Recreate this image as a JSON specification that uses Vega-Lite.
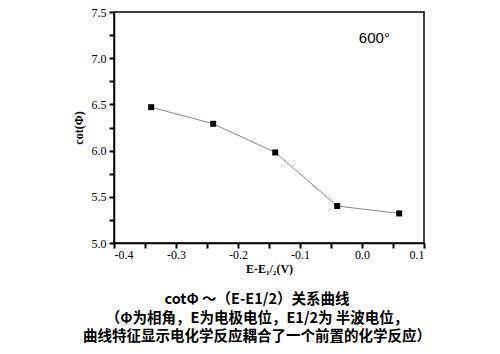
{
  "$schema": "https://vega.github.io/schema/vega-lite/v6.json",
  "width": 310,
  "height": 231,
  "autosize": {"type": "none"},
  "padding": {"left": 114, "top": 12, "right": 76, "bottom": 111},
  "background": "white",
  "config": {
    "view": {"stroke": "black", "strokeWidth": 1.5},
    "axis": {
      "labelFont": "Liberation Serif",
      "labelFontSize": 12,
      "labelColor": "black",
      "titleFont": "Liberation Serif",
      "titleFontWeight": "bold",
      "titleFontSize": 12,
      "titleColor": "black",
      "domainColor": "black",
      "domainWidth": 1.5,
      "ticks": true,
      "tickColor": "#000000",
      "tickWidth": 2,
      "tickOpacity": 1,
      "grid": false
    }
  },
  "title": {
    "text": ["cotΦ ～（E-E1/2）关系曲线", "（Φ为相角，E为电极电位，E1/2为 半波电位，", "曲线特征显示电化学反应耦合了一个前置的化学反应）"],
    "orient": "bottom",
    "anchor": "middle",
    "font": "Noto Sans CJK SC",
    "fontSize": 14.5,
    "fontWeight": "bold",
    "color": "black",
    "lineHeight": 18.5,
    "offset": 19,
    "dx": -12
  },
  "data": {
    "values": [
      {"x": -0.34, "y": 6.47},
      {"x": -0.24, "y": 6.29},
      {"x": -0.14, "y": 5.98},
      {"x": -0.04, "y": 5.40},
      {"x": 0.06, "y": 5.32}
    ]
  },
  "encoding": {
    "x": {
      "field": "x",
      "type": "quantitative",
      "scale": {"domain": [-0.4, 0.1], "nice": false, "zero": false},
      "axis": {
        "title": "E-E₁/₂(V)",
        "values": [-0.4, -0.35, -0.3, -0.25, -0.2, -0.15, -0.1, -0.05, 0, 0.05, 0.1],
        "labelExpr": "abs(datum.value*10 - round(datum.value*10)) < 0.01 ? replace(format(datum.value, '.1f'), '−', '-') : ''",
        "tickSize": 5,
        "labelPadding": 1,
        "titlePadding": 3
      }
    },
    "y": {
      "field": "y",
      "type": "quantitative",
      "scale": {"domain": [5.0, 7.5], "nice": false, "zero": false},
      "axis": {
        "title": "cot(Φ)",
        "values": [5.0, 5.25, 5.5, 5.75, 6.0, 6.25, 6.5, 6.75, 7.0, 7.25, 7.5],
        "labelExpr": "abs(datum.value*2 - round(datum.value*2)) < 0.01 ? format(datum.value, '.1f') : ''",
        "tickSize": 5,
        "labelPadding": 3,
        "titlePadding": 6
      }
    }
  },
  "layer": [
    {"mark": {"type": "line", "color": "#888888", "strokeWidth": 1}},
    {"mark": {"type": "point", "shape": "square", "filled": true, "color": "black", "size": 36, "opacity": 1}},
    {
      "data": {"values": [{"label": "600°", "lx": 0.045, "ly": 7.22}]},
      "mark": {"type": "text", "font": "Liberation Sans", "fontSize": 15, "color": "black", "align": "right", "baseline": "middle"},
      "encoding": {
        "x": {"field": "lx", "type": "quantitative"},
        "y": {"field": "ly", "type": "quantitative"},
        "text": {"field": "label"}
      }
    }
  ]
}
